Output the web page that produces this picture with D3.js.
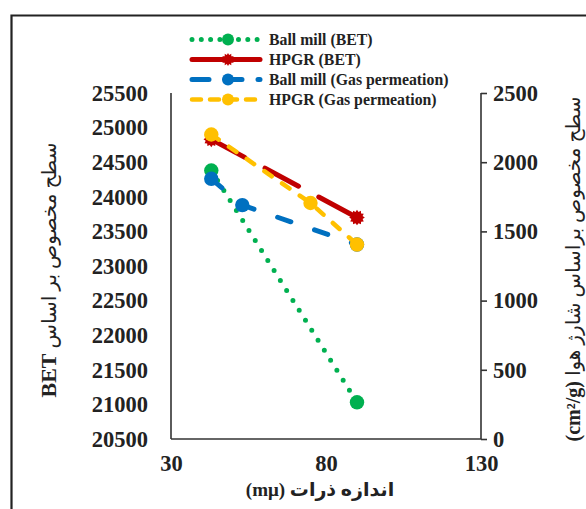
<!DOCTYPE html>
<html>
<head>
<meta charset="utf-8">
<script src="https://cdn.jsdelivr.net/npm/d3@7"></script>
<style>
  html, body { margin: 0; padding: 0; background: #fff; }
  svg { display: block; }
</style>
</head>
<body>
<svg id="chart" width="586" height="509"></svg>
<script>
// ---- Data ----
const seriesNames = ["Ball mill (BET)", "HPGR (BET)", "Ball mill (Gas permeation)", "HPGR (Gas permeation)"];
const xBallBET = [43, 90];
const yBallBET = [24380, 21030];
const xHpgrBET = [43, 90];
const yHpgrBET = [24830, 23700];
const xBallGas = [43, 53, 90];
const yBallGas = [1880, 1690, 1405];
const xHpgrGas = [43, 75, 90];
const yHpgrGas = [2200, 1705, 1405];
const xTicks = [30, 80, 130];
const yLeftTicks = [20500, 21000, 21500, 22000, 22500, 23000, 23500, 24000, 24500, 25000, 25500];
const yRightTicks = [0, 500, 1000, 1500, 2000, 2500];
const leftTitleFa = "سطح مخصوص بر اساس ";
const leftTitleEn = "BET";
const rightTitleFa = "سطح مخصوص براساس شارژ هوا ";
const rightTitleEn = "(cm²/g)";
const xTitle = "اندازه ذرات (mμ)";

const svg = d3.select("#chart");
const x = d3.scaleLinear().domain([30, 130]).range([171, 481]);
const yL = d3.scaleLinear().domain([20500, 25500]).range([439, 93]);
const yR = d3.scaleLinear().domain([0, 2500]).range([439, 93]);

const numFont = "'Liberation Serif', 'Times New Roman', serif";
const titleFont = "'Liberation Serif', 'DejaVu Sans', serif";

// outer frame
svg.append("path").attr("d", "M11.5,509 V15.5 H586")
  .attr("fill", "none").attr("stroke", "#222").attr("stroke-width", 2.2);

// axes
const axisColor = "#333";
const gL = svg.append("g").attr("transform", `translate(${x.range()[0]},0)`)
  .call(d3.axisLeft(yL).tickValues(yLeftTicks).tickSize(0).tickPadding(23).tickFormat(d3.format("d")));
const gR = svg.append("g").attr("transform", `translate(${x.range()[1]},0)`)
  .call(d3.axisRight(yR).tickValues(yRightTicks).tickSize(6).tickPadding(6).tickFormat(d3.format("d")));
const gB = svg.append("g").attr("transform", `translate(0,${yL.range()[0]})`)
  .call(d3.axisBottom(x).tickValues(xTicks).tickSize(0).tickPadding(32).tickFormat(d3.format("d")));

[gL, gR, gB].forEach(g => {
  g.select(".domain").attr("stroke", axisColor).attr("stroke-width", 1.6);
  g.selectAll(".tick line").attr("stroke", axisColor).attr("stroke-width", 1.6);
  g.selectAll(".tick text").attr("font-family", numFont).attr("font-weight", "bold")
    .attr("font-size", 22.5).attr("fill", "#222");
});
gL.select(".domain").attr("d", `M0,${yL.range()[1]} V${yL.range()[0]}`);
gR.select(".domain").attr("d", `M0,${yR.range()[1]} V${yR.range()[0]}`);
gB.select(".domain").attr("d", `M${x.range()[0]},0 H${x.range()[1]}`);
gB.selectAll(".tick text").attr("dy", "0");

// series
const series = [
  {name: seriesNames[0], xs: xBallBET, ys: yBallBET, y: yL, color: "#00B050", width: 5, dash: "0 11.8", marker: "circle", markIdx: [0, 1]},
  {name: seriesNames[1], xs: xHpgrBET, ys: yHpgrBET, y: yL, color: "#C00000", width: 5, dash: "38 23", marker: "star", markIdx: [0, 1]},
  {name: seriesNames[2], xs: xBallGas, ys: yBallGas, y: yR, color: "#0070C0", width: 5, dash: "14 25", marker: "circle", markIdx: [0, 1, 2]},
  {name: seriesNames[3], xs: xHpgrGas, ys: yHpgrGas, y: yR, color: "#FFC000", width: 4.5, dash: "9 12.5", marker: "circle", markIdx: [0, 1, 2]}
];

function starPath(r1, r2, n) {
  const pts = [];
  for (let i = 0; i < n * 2; i++) {
    const r = i % 2 === 0 ? r1 : r2;
    const a = Math.PI * i / n;
    pts.push([r * Math.sin(a), -r * Math.cos(a)]);
  }
  return "M" + pts.map(p => p[0].toFixed(2) + "," + p[1].toFixed(2)).join("L") + "Z";
}

function drawMarker(g, type, cx, cy, color, r) {
  if (type === "circle") {
    g.append("circle").attr("cx", cx).attr("cy", cy).attr("r", r).attr("fill", color);
  } else {
    g.append("path").attr("d", starPath(r + 0.6, r - 1.4, 12))
      .attr("transform", `translate(${cx},${cy})`).attr("fill", color);
  }
}

const plot = svg.append("g");
series.forEach(s => {
  const pts = s.xs.map((v, i) => [x(v), s.y(s.ys[i])]);
  plot.append("path").attr("d", d3.line()(pts))
    .attr("fill", "none").attr("stroke", s.color).attr("stroke-width", s.width)
    .attr("stroke-dasharray", s.dash).attr("stroke-linecap", "round");
  s.markIdx.forEach(i => drawMarker(plot, s.marker, pts[i][0], pts[i][1], s.color, 7.2));
});

// legend
const legend = svg.append("g");
const legendY = [39.5, 59.5, 79.5, 99.5];
const legendDash = ["0 9.3", null, "17 16", "9 9"];
series.forEach((s, i) => {
  const ly = legendY[i];
  legend.append("path").attr("d", d3.line()([[192, ly], [260, ly]]))
    .attr("fill", "none").attr("stroke", s.color).attr("stroke-width", s.width)
    .attr("stroke-linecap", "round")
    .attr("stroke-dasharray", legendDash[i]);
  drawMarker(legend, s.marker, 228, ly, s.color, 6);
  legend.append("text").attr("x", 269).attr("y", ly + 5)
    .attr("font-family", numFont).attr("font-weight", "bold").attr("font-size", 15.8)
    .attr("fill", "#222").text(s.name);
});

// titles
const lt = svg.append("text")
  .attr("transform", "translate(56,270) rotate(-90)")
  .attr("text-anchor", "middle").attr("direction", "rtl")
  .attr("font-family", titleFont).attr("font-size", 20).attr("fill", "#222");
lt.append("tspan").text(leftTitleFa);
lt.append("tspan").attr("font-weight", "bold").attr("font-size", 22).text(leftTitleEn);

const rt = svg.append("text")
  .attr("transform", "translate(580,269) rotate(-90)")
  .attr("text-anchor", "middle").attr("direction", "rtl")
  .attr("font-family", titleFont).attr("font-size", 20).attr("fill", "#222");
rt.append("tspan").text(rightTitleFa);
rt.append("tspan").attr("font-weight", "bold").text(rightTitleEn);

svg.append("text")
  .attr("x", 320).attr("y", 496)
  .attr("text-anchor", "middle").attr("direction", "rtl")
  .attr("font-family", titleFont).attr("font-weight", "bold").attr("font-size", 19).attr("fill", "#222")
  .text(xTitle);
</script>
</body>
</html>
